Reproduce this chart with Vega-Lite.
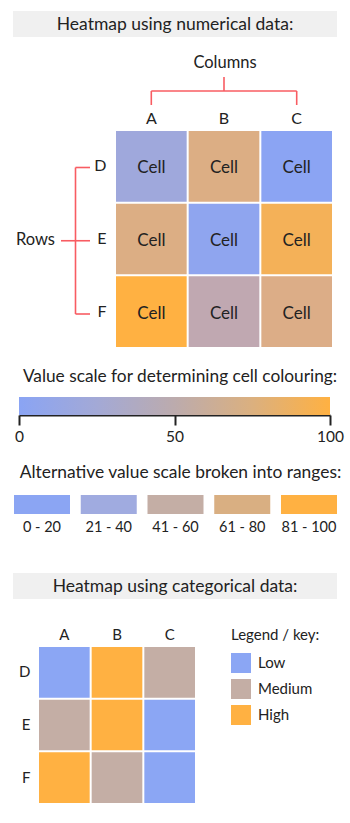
{
  "$schema": "https://vega.github.io/schema/vega-lite/v6.json",
  "padding": {"top": 11, "bottom": 20, "left": 0, "right": 0},
  "autosize": {"type": "pad"},
  "bounds": "flush",
  "spacing": 0,
  "center": true,
  "config": {
    "view": {"stroke": null},
    "font": "Lato",
    "text": {"color": "#222", "font": "Lato"},
    "axis": {"labelFont": "Lato", "labelColor": "#222", "grid": false},
    "legend": {"labelFont": "Lato", "titleFont": "Lato", "labelColor": "#222", "titleColor": "#222"}
  },
  "datasets": {
    "cells": [
      {"col": "A", "row": "D", "value": 20, "label": "Cell"},
      {"col": "B", "row": "D", "value": 73, "label": "Cell"},
      {"col": "C", "row": "D", "value": 1, "label": "Cell"},
      {"col": "A", "row": "E", "value": 73, "label": "Cell"},
      {"col": "B", "row": "E", "value": 4, "label": "Cell"},
      {"col": "C", "row": "E", "value": 92, "label": "Cell"},
      {"col": "A", "row": "F", "value": 100, "label": "Cell"},
      {"col": "B", "row": "F", "value": 45, "label": "Cell"},
      {"col": "C", "row": "F", "value": 72, "label": "Cell"}
    ],
    "colBracket": [
      {"from": "B", "to": "B", "start": "stem", "end": "bar"},
      {"from": "A", "to": "C", "start": "bar", "end": "bar"},
      {"from": "A", "to": "A", "start": "bar", "end": "tick"},
      {"from": "C", "to": "C", "start": "bar", "end": "tick"}
    ],
    "rowBracket": [
      {"from": "spine", "to": "spine", "start": "D", "end": "F"},
      {"from": "spine", "to": "tick", "start": "D", "end": "D"},
      {"from": "line", "to": "tick", "start": "E", "end": "E"},
      {"from": "spine", "to": "tick", "start": "F", "end": "F"}
    ],
    "ranges": [
      {"range": "0 - 20"},
      {"range": "21 - 40"},
      {"range": "41 - 60"},
      {"range": "61 - 80"},
      {"range": "81 - 100"}
    ],
    "categorical": [
      {"col": "A", "row": "D", "level": "Low"},
      {"col": "B", "row": "D", "level": "High"},
      {"col": "C", "row": "D", "level": "Medium"},
      {"col": "A", "row": "E", "level": "Medium"},
      {"col": "B", "row": "E", "level": "High"},
      {"col": "C", "row": "E", "level": "Low"},
      {"col": "A", "row": "F", "level": "High"},
      {"col": "B", "row": "F", "level": "Medium"},
      {"col": "C", "row": "F", "level": "Low"}
    ]
  },
  "vconcat": [
    {
      "width": 324, "height": 26,
      "view": {"fill": "#f0f0f0", "stroke": null},
      "data": {"values": [{"label": "Heatmap using numerical data:"}]},
      "mark": {"type": "text", "fontSize": 17.5, "baseline": "alphabetic", "align": "center", "dy": 5.8},
      "encoding": {"text": {"field": "label"}}
    },
    {
      "width": 350, "height": 94,
      "layer": [
        {
          "data": {"name": "colBracket"},
          "mark": {"type": "rule", "color": "#f85c62", "strokeWidth": 1.6},
          "encoding": {
            "x": {"field": "from", "type": "nominal", "scale": {"type": "point", "domain": ["A", "B", "C"], "range": [151.3, 296.7], "padding": 0}, "axis": null},
            "x2": {"field": "to"},
            "y": {"field": "start", "type": "nominal", "scale": {"type": "point", "domain": ["stem", "bar", "tick"], "range": [40, 68], "padding": 0}, "axis": null},
            "y2": {"field": "end"}
          }
        },
        {
          "data": {"values": [{"label": "Columns", "col": "B", "level": "stem"}]},
          "mark": {"type": "text", "fontSize": 16.5, "baseline": "alphabetic", "align": "center", "dy": -9, "dx": 1},
          "encoding": {
            "x": {"field": "col", "type": "nominal", "scale": {"type": "point", "domain": ["A", "B", "C"], "range": [151.3, 296.7], "padding": 0}, "axis": null},
            "y": {"field": "level", "type": "nominal", "scale": {"type": "point", "domain": ["stem", "bar", "tick"], "range": [40, 68], "padding": 0}, "axis": null},
            "text": {"field": "label"}
          }
        }
      ]
    },
    {
      "width": 350, "height": 216,
      "layer": [
        {
          "data": {"name": "cells"},
          "layer": [
            {
              "mark": {"type": "rect"},
              "encoding": {
                "x": {"field": "col", "type": "nominal", "scale": {"domain": ["A", "B", "C"], "range": [116, 332], "paddingInner": 0.0275, "paddingOuter": 0},
                  "axis": {"orient": "top", "ticks": false, "domain": false, "labelPadding": 5, "labelFontSize": 16, "labelAngle": 0, "title": null}},
                "y": {"field": "row", "type": "nominal", "scale": {"domain": ["D", "E", "F"], "paddingInner": 0.0275, "paddingOuter": 0},
                  "axis": {"orient": "left", "offset": -116, "ticks": false, "domain": false, "labelPadding": 10, "labelFontSize": 16, "title": null}},
                "color": {"field": "value", "type": "quantitative",
                  "scale": {"domain": [0, 25, 50, 75, 100], "range": ["#8aa4f4", "#a3a9d6", "#bcabad", "#dbb07f", "#ffb142"]}, "legend": null}
              }
            },
            {
              "mark": {"type": "text", "fontSize": 17, "baseline": "alphabetic", "align": "center", "dy": 7},
              "encoding": {
                "x": {"field": "col", "type": "nominal"},
                "y": {"field": "row", "type": "nominal"},
                "text": {"field": "label"}
              }
            }
          ]
        },
        {
          "layer": [
            {
              "data": {"name": "rowBracket"},
              "mark": {"type": "rule", "color": "#f85c62", "strokeWidth": 1.6},
              "encoding": {
                "x": {"field": "from", "type": "nominal", "scale": {"type": "point", "domain": ["line", "spine", "tick"], "range": [61, 90], "padding": 0}, "axis": null},
                "x2": {"field": "to"},
                "y": {"field": "start", "type": "nominal", "scale": {"type": "point", "domain": ["D", "E", "F"], "range": [36.5, 183], "padding": 0}, "axis": null},
                "y2": {"field": "end"}
              }
            },
            {
              "data": {"values": [{"label": "Rows", "at": "line", "row": "E"}]},
              "mark": {"type": "text", "fontSize": 16.5, "baseline": "alphabetic", "align": "right", "dx": -6, "dy": 4},
              "encoding": {
                "x": {"field": "at", "type": "nominal"},
                "y": {"field": "row", "type": "nominal"},
                "text": {"field": "label"}
              }
            }
          ]
        }
      ],
      "resolve": {"scale": {"x": "independent", "y": "independent"}, "axis": {"x": "independent", "y": "independent"}}
    },
    {
      "width": 350, "height": 50,
      "data": {"values": [{"label": "Value scale for determining cell colouring:"}]},
      "mark": {"type": "text", "fontSize": 17.3, "baseline": "alphabetic", "align": "center", "dy": 10, "dx": 5},
      "encoding": {"text": {"field": "label"}}
    },
    {
      "width": 350, "height": 18,
      "data": {"values": [{"start": 0, "end": 100}]},
      "mark": {"type": "rect", "fill": {"gradient": "linear", "x1": 0, "y1": 0, "x2": 1, "y2": 0,
        "stops": [
          {"offset": 0, "color": "#8aa4f4"},
          {"offset": 0.25, "color": "#a3a9d6"},
          {"offset": 0.5, "color": "#bcabad"},
          {"offset": 0.75, "color": "#dbb07f"},
          {"offset": 1, "color": "#ffb142"}
        ]}},
      "encoding": {
        "x": {"field": "start", "type": "quantitative", "scale": {"domain": [0, 100], "range": [19, 330], "nice": false, "zero": false},
          "axis": {"orient": "bottom", "values": [0, 50, 100], "domainColor": "#222", "domainWidth": 2, "tickColor": "#222", "tickWidth": 2, "tickSize": 10, "labelFontSize": 15.5, "labelPadding": 4, "labelFlush": false, "labelOverlap": false, "title": null}},
        "x2": {"field": "end"}
      }
    },
    {
      "width": 350, "height": 80,
      "data": {"values": [{"label": "Alternative value scale broken into ranges:"}]},
      "mark": {"type": "text", "fontSize": 17.4, "baseline": "alphabetic", "align": "center", "dy": 23, "dx": 5.5},
      "encoding": {"text": {"field": "label"}}
    },
    {
      "width": 350, "height": 19,
      "data": {"name": "ranges"},
      "mark": {"type": "rect"},
      "encoding": {
        "x": {"field": "range", "type": "nominal", "sort": null,
          "scale": {"domain": ["0 - 20", "21 - 40", "41 - 60", "61 - 80", "81 - 100"], "range": [14, 337], "paddingInner": 0.161, "paddingOuter": 0},
          "axis": {"orient": "bottom", "ticks": false, "domain": false, "labelPadding": 6, "labelFontSize": 14.5, "labelAngle": 0, "title": null}},
        "color": {"field": "range", "type": "nominal",
          "scale": {"domain": ["0 - 20", "21 - 40", "41 - 60", "61 - 80", "81 - 100"], "range": ["#8ba5f3", "#a0abe0", "#c4aea5", "#d9af82", "#ffb142"]}, "legend": null}
      }
    },
    {
      "width": 350, "height": 59,
      "data": {"values": []},
      "mark": "point",
      "encoding": {}
    },
    {
      "width": 324, "height": 26,
      "view": {"fill": "#f0f0f0", "stroke": null},
      "data": {"values": [{"label": "Heatmap using categorical data:"}]},
      "mark": {"type": "text", "fontSize": 17.5, "baseline": "alphabetic", "align": "center", "dy": 5.8},
      "encoding": {"text": {"field": "label"}}
    },
    {
      "width": 350, "height": 48,
      "data": {"values": []},
      "mark": "point",
      "encoding": {}
    },
    {
      "width": 350, "height": 156,
      "data": {"name": "categorical"},
      "mark": {"type": "rect"},
      "encoding": {
        "x": {"field": "col", "type": "nominal", "scale": {"domain": ["A", "B", "C"], "range": [39, 195], "paddingInner": 0.038, "paddingOuter": 0},
          "axis": {"orient": "top", "ticks": false, "domain": false, "labelPadding": 5, "labelFontSize": 15, "labelAngle": 0, "title": null}},
        "y": {"field": "row", "type": "nominal", "scale": {"domain": ["D", "E", "F"], "paddingInner": 0.038, "paddingOuter": 0},
          "axis": {"orient": "left", "offset": -39, "ticks": false, "domain": false, "labelPadding": 9, "labelFontSize": 15, "title": null}},
        "color": {"field": "level", "type": "nominal",
          "scale": {"domain": ["Low", "Medium", "High"], "range": ["#8ba6f4", "#c4aea5", "#ffb142"]},
          "legend": {"title": "Legend / key:", "orient": "none", "legendX": 231, "legendY": -19, "padding": 0,
            "symbolType": "square", "symbolSize": 400, "symbolStrokeWidth": 0, "symbolOpacity": 1,
            "labelFontSize": 15, "titleFontSize": 15, "titleFontWeight": "normal", "rowPadding": 6, "labelOffset": 7, "titlePadding": 10}}
      }
    }
  ]
}
